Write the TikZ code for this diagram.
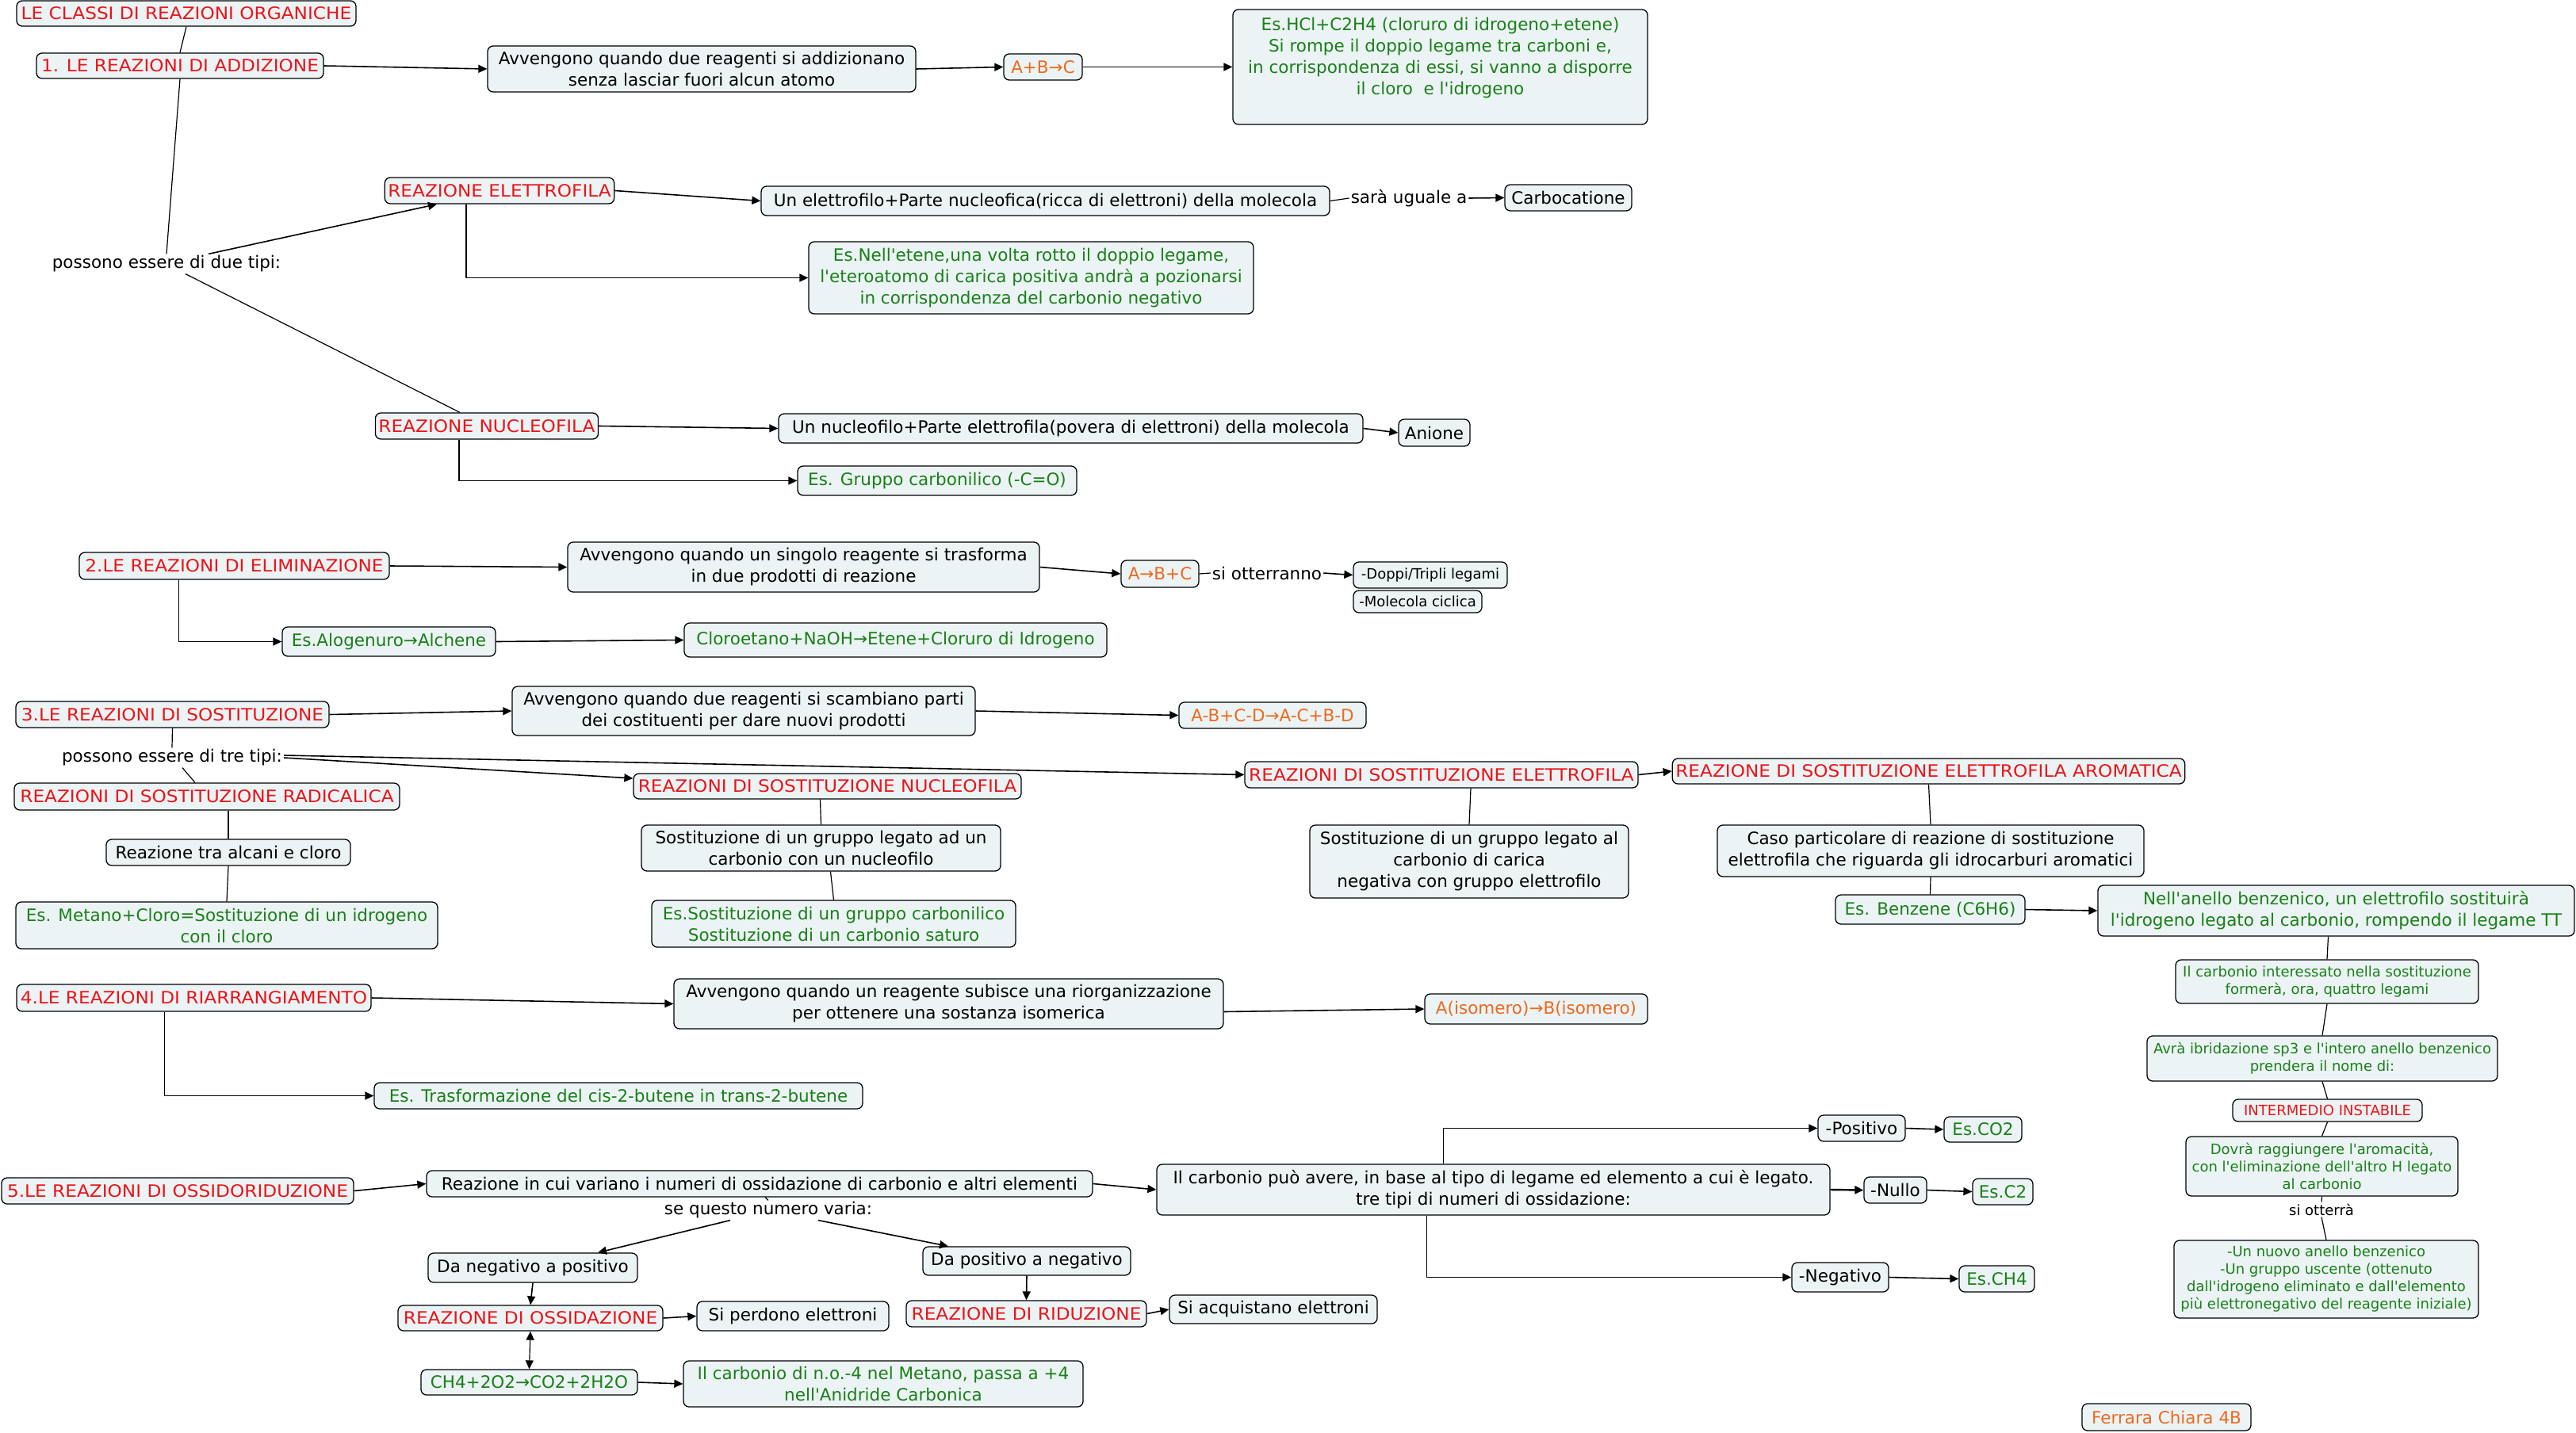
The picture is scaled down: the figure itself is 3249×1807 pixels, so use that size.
\documentclass[tikz,border=0pt]{standalone}
\usepackage{fontspec}
\setmainfont{DejaVu Sans}
\usetikzlibrary{arrows.meta}
\newfontfamily\dvs{DejaVu Sans}
\newfontfamily\dvw[FakeStretch=1.08]{DejaVu Sans}
\newcommand\fmain{\dvs\fontsize{21.5pt}{27pt}\selectfont}
\newcommand\fcaps{\dvw\fontsize{21.5pt}{27pt}\selectfont}
\newcommand\fsmall{\dvs\fontsize{18pt}{22pt}\selectfont}
\definecolor{boxfill}{RGB}{236,243,244}
\definecolor{cred}{RGB}{235,20,25}
\definecolor{cgreen}{RGB}{25,128,25}
\definecolor{corange}{RGB}{238,105,30}
\begin{document}
\begin{tikzpicture}[x=1pt,y=-1pt,
  bx/.style={draw=black, fill=boxfill, rounded corners=7pt, line width=1.3pt, font=\fmain, align=center, inner xsep=4pt, inner ysep=2pt},
  sm/.style={font=\fsmall},
  wh/.style 2 args={minimum width=#1pt, minimum height=#2pt},
  rtxt/.style={text=cred},
  caps/.style={text=cred, font=\fcaps},
  gtxt/.style={text=cgreen},
  otxt/.style={text=corange},
  lbl/.style={font=\fmain, inner sep=2pt},
  ln/.style={line width=1.2pt},
  arr/.style={line width=1.6pt, -{Triangle[length=11pt,width=10pt]}},
  arrb/.style={line width=1.2pt, {Triangle[length=11pt,width=10pt]}-{Triangle[length=11pt,width=10pt]}}]
\useasboundingbox (0,0) rectangle (3249,1807);

% ---- 1. addizione
\node[bx,caps,wh={428}{32}] (t0) at (235,17) {LE CLASSI DI REAZIONI ORGANICHE};
\node[bx,caps,wh={362}{32}] (n1) at (227,83) {1. LE REAZIONI DI ADDIZIONE};
\node[bx,wh={540}{58}] (n1a) at (885,87) {Avvengono quando due reagenti si addizionano\\senza lasciar fuori alcun atomo};
\node[bx,otxt,wh={99}{33}] (n1b) at (1315.5,84.5) {A+B→C};
\node[bx,gtxt,wh={523}{145}] (n1c) at (1816.5,84.5) {Es.HCl+C2H4 (cloruro di idrogeno+etene)\\Si rompe il doppio legame tra carboni e,\\in corrispondenza di essi, si vanno a disporre\\il cloro\ \ e l'idrogeno\\\mbox{}};
\node[bx,caps,wh={288}{33}] (el) at (630,240.5) {REAZIONE ELETTROFILA};
\node[bx,wh={717}{37}] (ela) at (1318.5,253.5) {Un elettrofilo+Parte nucleofica(ricca di elettroni) della molecola};
\node[lbl] (sara) at (1777,250) {sarà uguale a};
\node[bx,wh={160}{33}] (carb) at (1978,249.5) {Carbocatione};
\node[bx,gtxt,wh={561}{91}] (elb) at (1300.5,350.5) {Es.Nell'etene,una volta rotto il doppio legame,\\l'eteroatomo di carica positiva andrà a pozionarsi\\in corrispondenza del carbonio negativo};
\node[lbl] (due) at (210,333) {possono essere di due tipi:};
\node[bx,caps,wh={280}{33}] (nu) at (614,537.5) {REAZIONE NUCLEOFILA};
\node[bx,wh={737}{37}] (nua) at (1350.5,540.5) {Un nucleofilo+Parte elettrofila(povera di elettroni) della molecola};
\node[bx,wh={90}{34}] (anione) at (1809,546) {Anione};
\node[bx,gtxt,wh={352}{37}] (nub) at (1182,606.5) {Es. Gruppo carbonilico (-C=O)};

% ---- 2. eliminazione
\node[bx,caps,wh={391}{34}] (n2) at (295.5,714) {2.LE REAZIONI DI ELIMINAZIONE};
\node[bx,wh={595}{63}] (n2a) at (1013.5,715.5) {Avvengono quando un singolo reagente si trasforma\\in due prodotti di reazione};
\node[bx,otxt,wh={98}{34}] (n2b) at (1463,724) {A→B+C};
\node[lbl] (ott) at (1598,723) {si otterranno};
\node[bx,sm,wh={194}{33}] (n2c) at (1804,725.5) {-Doppi/Tripli legami};
\node[bx,sm,wh={162}{28}] (n2d) at (1788,759) {-Molecola ciclica};
\node[bx,gtxt,wh={269}{37}] (n2e) at (490.5,809.5) {Es.Alogenuro→Alchene};
\node[bx,gtxt,wh={533}{43}] (n2f) at (1129.5,807.5) {Cloroetano+NaOH→Etene+Cloruro di Idrogeno};

% ---- 3. sostituzione
\node[bx,caps,wh={395}{33}] (n3) at (217.5,901.5) {3.LE REAZIONI DI SOSTITUZIONE};
\node[bx,wh={584}{62}] (n3a) at (938,897) {Avvengono quando due reagenti si scambiano parti\\dei costituenti per dare nuovi prodotti};
\node[bx,otxt,wh={236}{33}] (n3b) at (1605,902.5) {A-B+C-D→A-C+B-D};
\node[lbl] (tre) at (217,956) {possono essere di tre tipi:};
\node[bx,caps,wh={486}{34}] (rad) at (261,1005) {REAZIONI DI SOSTITUZIONE RADICALICA};
\node[bx,wh={308}{33}] (rada) at (288,1075.5) {Reazione tra alcani e cloro};
\node[bx,gtxt,wh={532}{59}] (radb) at (286,1167.5) {Es. Metano+Cloro=Sostituzione di un idrogeno\\con il cloro};
\node[bx,caps,wh={489}{32}] (snu) at (1043.5,992) {REAZIONI DI SOSTITUZIONE NUCLEOFILA};
\node[bx,wh={453}{58}] (snua) at (1035.5,1070) {Sostituzione di un gruppo legato ad un\\carbonio con un nucleofilo};
\node[bx,gtxt,wh={459}{59}] (snub) at (1051.5,1165.5) {Es.Sostituzione di un gruppo carbonilico\\Sostituzione di un carbonio saturo};
\node[bx,caps,wh={496}{33}] (sel) at (1818,977.5) {REAZIONI DI SOSTITUZIONE ELETTROFILA};
\node[bx,caps,wh={645}{32}] (sar) at (2432.5,973) {REAZIONE DI SOSTITUZIONE ELETTROFILA AROMATICA};
\node[bx,wh={402}{92}] (sela) at (1853,1087) {Sostituzione di un gruppo legato al\\carbonio di carica\\negativa con gruppo elettrofilo};
\node[bx,wh={538}{65}] (caso) at (2435,1073.5) {Caso particolare di reazione di sostituzione\\elettrofila che riguarda gli idrocarburi aromatici};
\node[bx,gtxt,wh={239}{37}] (benz) at (2434.5,1147.5) {Es. Benzene (C6H6)};
\node[bx,gtxt,wh={601}{64}] (anel) at (2946.5,1149) {Nell'anello benzenico, un elettrofilo sostituirà\\l'idrogeno legato al carbonio, rompendo il legame TT};
\node[bx,sm,gtxt,wh={382}{55}] (r1) at (2935,1238.5) {Il carbonio interessato nella sostituzione\\formerà, ora, quattro legami};
\node[bx,sm,gtxt,wh={442}{57}] (r2) at (2929,1335.5) {Avrà ibridazione sp3 e l'intero anello benzenico\\prendera il nome di:};
\node[bx,sm,rtxt,wh={239}{28}] (r3) at (2935.5,1401) {INTERMEDIO INSTABILE};
\node[bx,sm,gtxt,wh={343}{75}] (r4) at (2928.5,1471.5) {Dovrà raggiungere l'aromacità,\\con l'eliminazione dell'altro H legato\\al carbonio};
\node[lbl,font=\fsmall] (otta) at (2928,1526) {si otterrà};
\node[bx,sm,gtxt,wh={384}{98}] (r5) at (2934,1614) {-Un nuovo anello benzenico\\-Un gruppo uscente (ottenuto\\dall'idrogeno eliminato e dall'elemento\\più elettronegativo del reagente iniziale)};

% ---- 4. riarrangiamento
\node[bx,caps,wh={447}{34}] (n4) at (244.5,1259) {4.LE REAZIONI DI RIARRANGIAMENTO};
\node[bx,wh={693}{63}] (n4a) at (1196.5,1266.5) {Avvengono quando un reagente subisce una riorganizzazione\\per ottenere una sostanza isomerica};
\node[bx,otxt,wh={281}{38}] (n4b) at (1937.5,1273) {A(isomero)→B(isomero)};
\node[bx,gtxt,wh={616}{33}] (n4c) at (780,1382.5) {Es. Trasformazione del cis-2-butene in trans-2-butene};

% ---- 5. ossidoriduzione
\node[bx,caps,wh={444}{33}] (n5) at (224,1502.5) {5.LE REAZIONI DI OSSIDORIDUZIONE};
\node[bx,wh={840}{33}] (n5a) at (958,1493.5) {Reazione in cui variano i numeri di ossidazione di carbonio e altri elementi};
\node[lbl] (varia) at (969,1527) {se questo numero varia:};
\node[bx,wh={264}{37}] (np) at (672,1599.5) {Da negativo a positivo};
\node[bx,caps,wh={334}{32}] (oss) at (669,1663) {REAZIONE DI OSSIDAZIONE};
\node[bx,wh={242}{37}] (perd) at (1000,1660.5) {Si perdono elettroni};
\node[bx,gtxt,wh={273}{32}] (ch4) at (667.5,1744) {CH4+2O2→CO2+2H2O};
\node[bx,gtxt,wh={504}{58}] (ch4b) at (1114,1746) {Il carbonio di n.o.-4 nel Metano, passa a +4\\nell'Anidride Carbonica};
\node[bx,wh={262}{36}] (pn) at (1295,1591) {Da positivo a negativo};
\node[bx,caps,wh={303}{33}] (rid) at (1294.5,1657.5) {REAZIONE DI RIDUZIONE};
\node[bx,wh={262}{36}] (acq) at (1606,1652) {Si acquistano elettroni};
\node[bx,wh={849}{64}] (cpa) at (1883.5,1501) {Il carbonio può avere, in base al tipo di legame ed elemento a cui è legato.\\tre tipi di numeri di ossidazione:};
\node[bx,wh={110}{33}] (pos) at (2348,1423.5) {-Positivo};
\node[bx,gtxt,wh={98}{32}] (co2) at (2501,1425) {Es.CO2};
\node[bx,wh={79}{33}] (nul) at (2390.5,1501.5) {-Nullo};
\node[bx,gtxt,wh={76}{33}] (c2) at (2526,1503.5) {Es.C2};
\node[bx,wh={122}{37}] (neg) at (2321,1611.5) {-Negativo};
\node[bx,gtxt,wh={95}{33}] (ch4e) at (2518.5,1613.5) {Es.CH4};
\node[bx,otxt,wh={213}{34}] (auth) at (2732.5,1788) {Ferrara Chiara 4B};

% ---- connectors
\draw[ln] (t0.south) -- (n1.north);
\draw[arr] (n1.east) -- (n1a.west);
\draw[arr] (n1a.east) -- (n1b.west);
\draw[arr] (n1b.east) -- (n1c.west);
\draw[ln] (n1.south) -- (due.north);
\draw[arr] ([xshift=53pt]due.north) -- ([xshift=-79pt]el.south);
\draw[ln] ([xshift=24pt]due.south) -- ([xshift=-34pt]nu.north);
\draw[arr] (el.east) -- (ela.west);
\draw[arr] ([xshift=-42pt]el.south) |- (elb.west);
\draw[ln] (ela.east) -- (sara.west);
\draw[arr] (sara.east) -- (carb.west);
\draw[arr] (nu.east) -- (nua.west);
\draw[arr] ([xshift=-35pt]nu.south) |- (nub.west);
\draw[arr] (nua.east) -- (anione.west);

\draw[arr] (n2.east) -- (n2a.west);
\draw[arr] (n2a.east) -- (n2b.west);
\draw[ln] (n2b.east) -- (ott.west);
\draw[arr] (ott.east) -- (n2c.west);
\draw[arr] ([xshift=-70pt]n2.south) |- (n2e.west);
\draw[arr] (n2e.east) -- (n2f.west);

\draw[arr] (n3.east) -- (n3a.west);
\draw[arr] (n3a.east) -- (n3b.west);
\draw[ln] (n3.south) -- (tre.north);
\draw[ln] ([xshift=13pt]tre.south) -- ([xshift=-15pt]rad.north);
\draw[arr] (tre.east) -- ([yshift=10pt]snu.west);
\draw[arr] ([yshift=3pt]tre.east) -- (sel.west);
\draw[ln] ([xshift=27pt]rad.south) -- (rada.north);
\draw[ln] (rada.south) -- (radb.north);
\draw[ln] ([xshift=-9pt]snu.south) -- (snua.north);
\draw[ln] ([xshift=12pt]snua.south) -- (snub.north);
\draw[ln] ([xshift=37pt]sel.south) -- (sela.north);
\draw[arr] (sel.east) -- (sar.west);
\draw[ln] (sar.south) -- (caso.north);
\draw[ln] (caso.south) -- (benz.north);
\draw[arr] (benz.east) -- (anel.west);
\draw[ln] ([xshift=-10pt]anel.south) -- (r1.north);
\draw[ln] (r1.south) -- (r2.north);
\draw[ln] (r2.south) -- (r3.north);
\draw[ln] (r3.south) -- (r4.north);
\draw[ln] (r4.south) -- (otta.north);
\draw[ln] (otta.south) -- (r5.north);

\draw[arr] (n4.east) -- (n4a.west);
\draw[arr] ([yshift=-10pt]n4a.east) -- (n4b.west);
\draw[arr] ([xshift=-37pt]n4.south) |- (n4c.west);

\draw[arr] (n5.east) -- (n5a.west);
\draw[arr] (n5a.east) -- (cpa.west);
\draw[ln] ([xshift=7pt]n5a.south) -- (varia.north);
\draw[arr] ([xshift=-48pt]varia.south) -- ([xshift=82pt]np.north);
\draw[arr] ([xshift=63pt]varia.south) -- ([xshift=-99pt]pn.north);
\draw[arr] (np.south) -- (oss.north);
\draw[arr] (oss.east) -- (perd.west);
\draw[arrb] (oss.south) -- (ch4.north);
\draw[arr] (ch4.east) -- (ch4b.west);
\draw[arr] (pn.south) -- (rid.north);
\draw[arr] (rid.east) -- (acq.west);
\draw[arr] ([xshift=-63pt]cpa.north) |- (pos.west);
\draw[arr,line width=2.4pt] (cpa.east) -- (nul.west);
\draw[arr] ([xshift=-84pt]cpa.south) |- (neg.west);
\draw[arr] (pos.east) -- (co2.west);
\draw[arr] (nul.east) -- (c2.west);
\draw[arr] (neg.east) -- (ch4e.west);
\end{tikzpicture}
\end{document}
